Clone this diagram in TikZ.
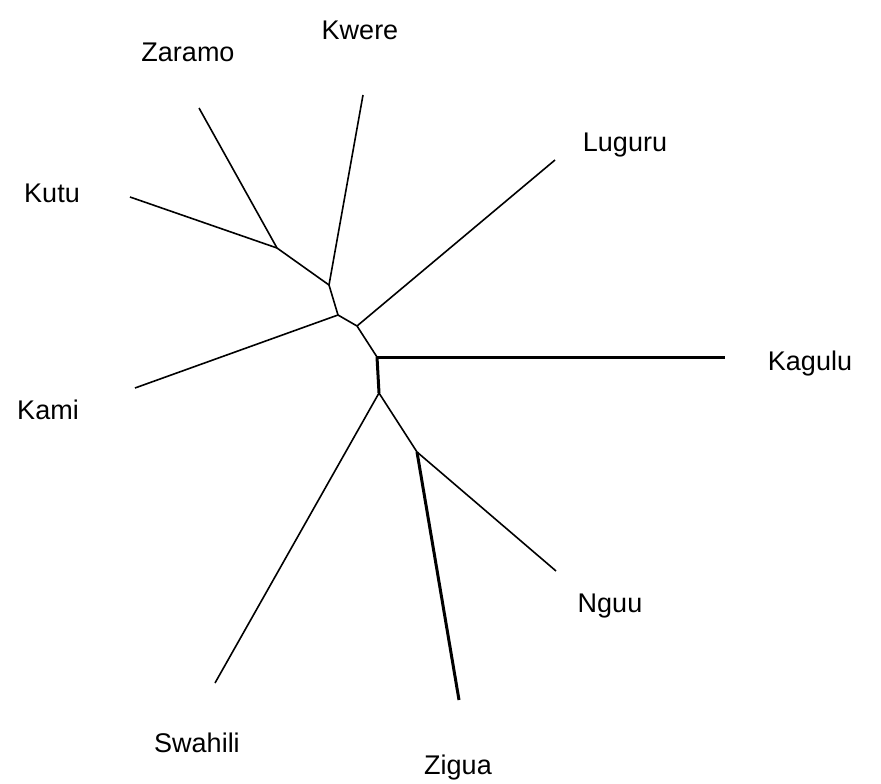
\documentclass[tikz,border=0pt]{standalone}
\usepackage{fontspec}
\setmainfont{Liberation Sans}
\usetikzlibrary{positioning}
\tikzset{
  nom/.style={font=\fontsize{27}{31}\selectfont, inner sep=0pt},
  branche/.style={line width=1.6pt, color=black},
  branchelarge/.style={line width=3pt, color=black}
}
\begin{document}
\begin{tikzpicture}[x=1pt, y=-1pt]
    \useasboundingbox (0,0) rectangle (881,784);

    % noeuds internes
    \coordinate (zk) at (277,248);
    \coordinate (kw) at (329,285);
    \coordinate (ka) at (338,315);
    \coordinate (lu) at (357,326);
    \coordinate (kg) at (377,357);
    \coordinate (sw) at (379,393);
    \coordinate (ng) at (417,452);

    % extremites
    \coordinate (zaramo) at (199,108);
    \coordinate (kwere) at (363,95);
    \coordinate (luguru) at (555,160);
    \coordinate (kutu) at (130,197);
    \coordinate (kami) at (135,388);
    \coordinate (kagulu) at (725,357);
    \coordinate (nguu) at (556,571);
    \coordinate (zigua) at (459,700);
    \coordinate (swahili) at (215,683);

    % etiquettes
    \node[nom] (tzaramo) at (188,52) {Zaramo};
    \node[nom] (tkwere) at (360,30) {Kwere};
    \node[nom] (tluguru) at (625,145) {Luguru};
    \node[nom] (tkutu) at (52,193) {Kutu};
    \node[nom] (tkami) at (48,410) {Kami};
    \node[nom] (tkagulu) at (810,364) {Kagulu};
    \node[nom] (tnguu) at (610,606) {Nguu};
    \node[nom] (tzigua) at (458,768) {Zigua};
    \node[nom] (tswahili) at (197,743) {Swahili};

    \draw[branche] (zaramo) -- (zk);
    \draw[branche] (kutu) -- (zk);
    \draw[branche] (zk) -- (kw);
    \draw[branche] (kwere) -- (kw);
    \draw[branche] (kw) -- (ka);
    \draw[branche] (kami) -- (ka);
    \draw[branche] (ka) -- (lu);
    \draw[branche] (luguru) -- (lu);
    \draw[branche] (lu) -- (kg);
    \draw[branchelarge] (kg) -- (kagulu);
    \draw[branchelarge] (kg) -- (sw);
    \draw[branche] (swahili) -- (sw);
    \draw[branche] (sw) -- (ng);
    \draw[branche] (ng) -- (nguu);
    \draw[branchelarge] (ng) -- (zigua);
  \end{tikzpicture}
\end{document}
